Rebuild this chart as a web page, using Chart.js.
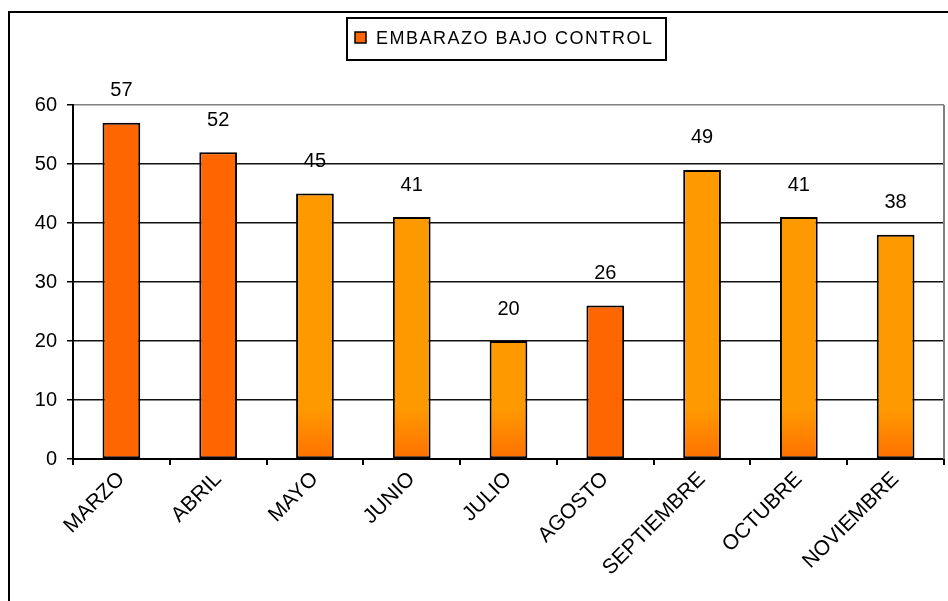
<!DOCTYPE html>
<html>
<head>
<meta charset="utf-8">
<script src="https://cdn.jsdelivr.net/npm/chart.js@4.4.0/dist/chart.umd.min.js"></script>
<style>
  html, body { margin: 0; padding: 0; background: #fff; }
</style>
</head>
<body>
<canvas id="bar-chart" width="948" height="601"></canvas>
<script>
  var meses = ["MARZO", "ABRIL", "MAYO", "JUNIO", "JULIO", "AGOSTO", "SEPTIEMBRE", "OCTUBRE", "NOVIEMBRE"];
  var controles = [57, 52, 45, 41, 20, 26, 49, 41, 38];
  var ticksY = [0, 10, 20, 30, 40, 50, 60];
  var serie = "EMBARAZO BAJO CONTROL";
  // barras pintadas con el naranja oscuro
  var oscuras = [true, true, false, false, false, true, false, false, false];

  var fuente = '"Liberation Sans", Arial, sans-serif';
  Chart.defaults.font.family = fuente;
  Chart.defaults.font.size = 20;
  Chart.defaults.color = '#000';

  function colorBarra(ctx) {
    var area = ctx.chart.chartArea;
    if (oscuras[ctx.dataIndex]) return '#FF6600';
    if (!area) return '#FF9900';
    var g = ctx.chart.ctx.createLinearGradient(0, area.bottom - 50, 0, area.bottom);
    g.addColorStop(0, '#FF9900');
    g.addColorStop(1, '#FF7000');
    return g;
  }

  var marco = {
    id: 'marco',
    beforeDraw: function(chart) {
      var c = chart.ctx;
      c.save();
      c.fillStyle = '#fff';
      c.fillRect(0, 0, chart.width, chart.height);
      c.restore();
    },
    afterDatasetsDraw: function(chart) {
      var c = chart.ctx;
      var meta = chart.getDatasetMeta(0);
      c.save();
      c.font = '20px ' + fuente;
      c.fillStyle = '#000';
      c.textAlign = 'center';
      c.textBaseline = 'middle';
      meta.data.forEach(function(bar, i) {
        c.fillText(controles[i], bar.x, bar.y - 32);
      });
      c.restore();
    },
    afterDraw: function(chart) {
      var c = chart.ctx;
      var a = chart.chartArea;
      c.save();
      // borde gris del area de trazado
      c.strokeStyle = '#808080';
      c.lineWidth = 2;
      c.beginPath();
      c.moveTo(a.right, a.top);
      c.lineTo(a.right, a.bottom);
      c.stroke();
      // marco exterior
      c.strokeStyle = '#000';
      c.beginPath();
      c.moveTo(9, chart.height);
      c.lineTo(9, 12);
      c.lineTo(chart.width, 12);
      c.stroke();
      // leyenda
      c.lineWidth = 2;
      c.strokeRect(347, 18, 319, 42);
      c.fillStyle = '#FF6600';
      c.fillRect(355, 32, 11, 11);
      c.lineWidth = 1.5;
      c.strokeRect(355, 32, 11, 11);
      c.fillStyle = '#000';
      c.font = '18px ' + fuente;
      c.letterSpacing = '1.5px';
      c.textAlign = 'left';
      c.textBaseline = 'middle';
      c.fillText(serie, 376, 39);
      c.restore();
    }
  };

  new Chart(document.getElementById("bar-chart"), {
    type: 'bar',
    data: {
      labels: meses,
      datasets: [{
        label: serie,
        data: controles,
        backgroundColor: colorBarra,
        borderColor: '#000',
        borderWidth: 2,
        borderSkipped: false,
        barPercentage: 0.39,
        categoryPercentage: 1
      }]
    },
    options: {
      responsive: false,
      animation: false,
      layout: {
        padding: { top: 105, right: 4, left: 0, bottom: 0 }
      },
      plugins: {
        legend: { display: false },
        tooltip: { enabled: false }
      },
      scales: {
        x: {
          afterFit: function(scale) { scale.height = 142; },
          grid: {
            display: true,
            drawOnChartArea: false,
            drawTicks: true,
            tickLength: 6,
            color: '#000',
            lineWidth: 2
          },
          border: { color: '#000', width: 2 },
          ticks: {
            autoSkip: false,
            minRotation: 45,
            maxRotation: 45,
            padding: 2,
            font: { size: 21 }
          }
        },
        y: {
          min: 0,
          max: 60,
          afterFit: function(scale) { scale.width = 73; },
          afterBuildTicks: function(scale) {
            scale.ticks = ticksY.map(function(v) { return { value: v }; });
          },
          grid: {
            color: function(ctx) {
              return ctx.tick && ctx.tick.value === 60 ? '#808080' : '#111';
            },
            tickColor: '#000',
            lineWidth: 1.5,
            tickLength: 6
          },
          border: { color: '#000', width: 2 },
          ticks: {
            padding: 10,
            font: { size: 20 }
          }
        }
      }
    },
    plugins: [marco]
  });
</script>
</body>
</html>
